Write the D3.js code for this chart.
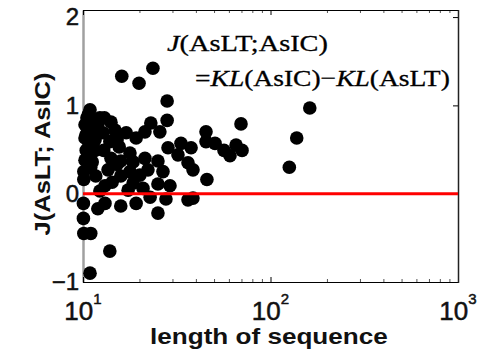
<!DOCTYPE html>
<html>
<head>
<meta charset="utf-8">
<script src="https://cdn.jsdelivr.net/npm/d3@7"></script>
<style>
  html, body { margin: 0; padding: 0; background: #fff; }
  svg { display: block; }
</style>
</head>
<body>
<div id="chart"></div>
<script>
// sequence length (x) and J(AsLT; AsIC) value (y)
const seqLength = [
  16.1, 19.9, 23.6, 28.1, 28.1,
  162, 138, 126, 69.6, 45.3, 50.6, 56.5, 60.8, 65.5, 70.5, 45.8, 45.3,
  10.9, 10.5, 10.25, 10.6, 10.25, 10.8, 10.4, 10.9, 10.25, 11.0, 10.1, 10.1,
  10.05, 10.05, 10.1, 11.0, 13.9, 10.9, 12.0, 13.1, 15.9, 19.2, 25.1, 27.7, 36.3, 38.6, 22.8,
  13.1, 14.3, 18.5, 20.9, 25.1, 29.1, 12.3,
  14.1, 15.9, 17.8, 18.5, 21.4, 22.2, 25.1, 26.7, 28.4, 32.1, 36.3, 38.6, 33.3, 37.7, 17.8, 13.6, 15.9,
  12.0, 14.1, 13.9, 12.8, 17.0, 19.2, 21.4, 23.0, 25.7, 15.6, 11.6,
  11.3, 11.6, 11.2, 11.7, 12.3, 12.9, 14.8, 15.2, 20.1, 17.4,
  11.6, 13.0, 15.2, 10.4, 10.7
];
const jValue = [
  1.33, 1.25, 1.42, 1.05, 0.83,
  0.97, 0.63, 0.30, 0.79, 0.70, 0.57, 0.49, 0.43, 0.55, 0.49, 0.16, 0.59,
  0.95, 0.86, 0.78, 0.71, 0.63, 0.56, 0.49, 0.43, 0.38, 0.30, 0.25, 0.16,
  -0.11, -0.28, -0.45, -0.45, -0.65, -0.90, -0.17, -0.11, -0.14, -0.11, -0.22, -0.06, -0.07, -0.05, -0.04,
  0.09, 0.13, 0.12, 0.06, 0.11, 0.09, 0.03,
  0.40, 0.37, 0.25, 0.36, 0.40, 0.27, 0.37, 0.25, 0.52, 0.44, 0.35, 0.27, 0.57, 0.52, 0.46, 0.27, 0.20,
  0.78, 0.81, 0.59, 0.69, 0.69, 0.63, 0.70, 0.80, 0.70, 0.53, 0.61,
  0.79, 0.49, 0.36, 0.20, 0.86, 0.49, 0.72, 0.33, 0.21, 0.04,
  0.70, 0.86, 0.61, 0.67, 0.90
];
const xTicks = [10, 100, 1000];
const xTickExp = ['1', '2', '3'];
const yTicks = [-1, 0, 1, 2];
const refLevel = [0];

const points = seqLength.map((v, i) => ({ len: v, j: jValue[i] }));

const width = 480;
const height = 353;
const plot = { left: 83, right: 458, top: 10, bottom: 282 };

const svg = d3.select('#chart').append('svg')
  .attr('width', width)
  .attr('height', height)
  .style('background-color', 'white');

const x = d3.scaleLog()
  .domain([10, 1000])
  .range([plot.left, plot.right]);

const y = d3.scaleLinear()
  .domain([-1, 2.08])
  .range([plot.bottom, plot.top]);

// minor log ticks (2..9 per decade)
const minorTicks = [];
[10, 100].forEach(base => {
  for (let m = 2; m <= 9; m++) minorTicks.push(base * m);
});

// squeeze/stretch text horizontally so it spans a given width
function fitText(t, left, baseline, w) {
  const len = t.node().getComputedTextLength();
  t.attr('x', 0).attr('y', 0)
    .attr('transform', `translate(${left},${baseline}) scale(${w / len},1)`);
}

// left axis (grey, with tick labels)
const yAxisLeft = svg.append('g')
  .attr('transform', `translate(${plot.left},0)`)
  .call(d3.axisLeft(y).tickValues(yTicks).tickSize(0).tickPadding(4)
    .tickFormat(d => d < 0 ? '\u2212' + Math.abs(d) : d));
yAxisLeft.select('.domain').attr('stroke', '#a0a0a0').attr('stroke-width', 2.5);
yAxisLeft.selectAll('text')
  .attr('font-family', 'Liberation Sans, Arial, sans-serif')
  .attr('font-size', 24)
  .attr('fill', '#111')
  .attr('stroke', '#111')
  .attr('stroke-width', 0.5);

// box: top, right, bottom
svg.append('g')
  .attr('transform', `translate(0,${plot.top})`)
  .call(d3.axisBottom(x).tickValues(minorTicks).tickSize(3).tickFormat(''))
  .call(g => g.select('.domain').remove())
  .call(g => g.selectAll('line').attr('stroke', '#555'));
svg.append('g')
  .attr('transform', `translate(0,${plot.top})`)
  .call(d3.axisBottom(x).tickValues(xTicks).tickSize(5).tickFormat(''))
  .call(g => g.select('.domain').remove());

svg.append('g')
  .attr('transform', `translate(0,${plot.bottom})`)
  .call(d3.axisTop(x).tickValues(minorTicks).tickSize(3).tickFormat(''))
  .call(g => g.select('.domain').remove())
  .call(g => g.selectAll('line').attr('stroke', '#555'));
svg.append('g')
  .attr('transform', `translate(0,${plot.bottom})`)
  .call(d3.axisTop(x).tickValues(xTicks).tickSize(5).tickFormat(''))
  .call(g => g.select('.domain').remove());

svg.append('g')
  .attr('transform', `translate(${plot.right},0)`)
  .call(d3.axisLeft(y).tickValues(yTicks).tickSize(5).tickFormat(''))
  .call(g => g.select('.domain').remove());

svg.append('line')
  .attr('x1', plot.left).attr('x2', plot.right)
  .attr('y1', plot.top + 0.5).attr('y2', plot.top + 0.5)
  .attr('stroke', '#000');
svg.append('line')
  .attr('x1', plot.left).attr('x2', plot.right)
  .attr('y1', plot.bottom + 0.5).attr('y2', plot.bottom + 0.5)
  .attr('stroke', '#000');
svg.append('line')
  .attr('x1', plot.right + 0.5).attr('x2', plot.right + 0.5)
  .attr('y1', plot.top).attr('y2', plot.bottom + 1)
  .attr('stroke', '#222').attr('stroke-width', 1.5);

// x tick labels 10^n
const xLab = svg.append('g')
  .attr('font-family', 'Liberation Sans, Arial, sans-serif')
  .attr('fill', '#111')
  .attr('stroke', '#111')
  .attr('stroke-width', 0.5);
xTicks.forEach((t, i) => {
  const txt = xLab.append('text')
    .attr('x', x(t))
    .attr('y', 320)
    .attr('text-anchor', 'middle')
    .attr('font-size', 26);
  txt.append('tspan').text('10');
  txt.append('tspan').attr('font-size', 15).attr('dy', -16).text(xTickExp[i]);
});

// scatter
svg.append('g')
  .selectAll('circle')
  .data(points)
  .join('circle')
  .attr('cx', d => x(d.len))
  .attr('cy', d => y(d.j))
  .attr('r', 6.8)
  .attr('fill', '#000');

// reference line at zero
svg.append('g')
  .selectAll('line')
  .data(refLevel)
  .join('line')
  .attr('x1', plot.left).attr('x2', plot.right)
  .attr('y1', d => y(d)).attr('y2', d => y(d))
  .attr('stroke', '#ff0000')
  .attr('stroke-width', 3);

// annotation
const ann1 = svg.append('text')
  .attr('font-family', 'Liberation Serif, Times New Roman, serif')
  .attr('font-size', 24)
  .attr('fill', '#000')
  .attr('stroke', '#000')
  .attr('stroke-width', 0.3);
ann1.append('tspan').attr('font-style', 'italic').text('J');
ann1.append('tspan').text('(AsLT;AsIC)');
fitText(ann1, 167, 51, 161);

const ann2 = svg.append('text')
  .attr('font-family', 'Liberation Serif, Times New Roman, serif')
  .attr('font-size', 24)
  .attr('fill', '#000')
  .attr('stroke', '#000')
  .attr('stroke-width', 0.3);
ann2.append('tspan').text('=');
ann2.append('tspan').attr('font-style', 'italic').text('KL');
ann2.append('tspan').text('(AsIC)\u2212');
ann2.append('tspan').attr('font-style', 'italic').text('KL');
ann2.append('tspan').text('(AsLT)');
fitText(ann2, 195, 86, 255);

// axis titles
const xTitle = svg.append('text')
  .attr('font-family', 'Liberation Sans, Arial, sans-serif')
  .attr('font-size', 22)
  .attr('font-weight', 'bold')
  .attr('fill', '#111')
  .text('length of sequence');
fitText(xTitle, 150, 344, 238);

const yTitle = svg.append('text')
  .attr('font-family', 'Liberation Sans, Arial, sans-serif')
  .attr('font-size', 22)
  .attr('font-weight', 'bold')
  .attr('fill', '#111')
  .attr('text-anchor', 'middle')
  .attr('dy', '0.36em')
  .text('J(AsLT; AsIC)');
const yLen = yTitle.node().getComputedTextLength();
yTitle.attr('x', 0).attr('y', 0)
  .attr('transform', `translate(42,154) rotate(-90) scale(${163 / yLen},1)`);
</script>
</body>
</html>
